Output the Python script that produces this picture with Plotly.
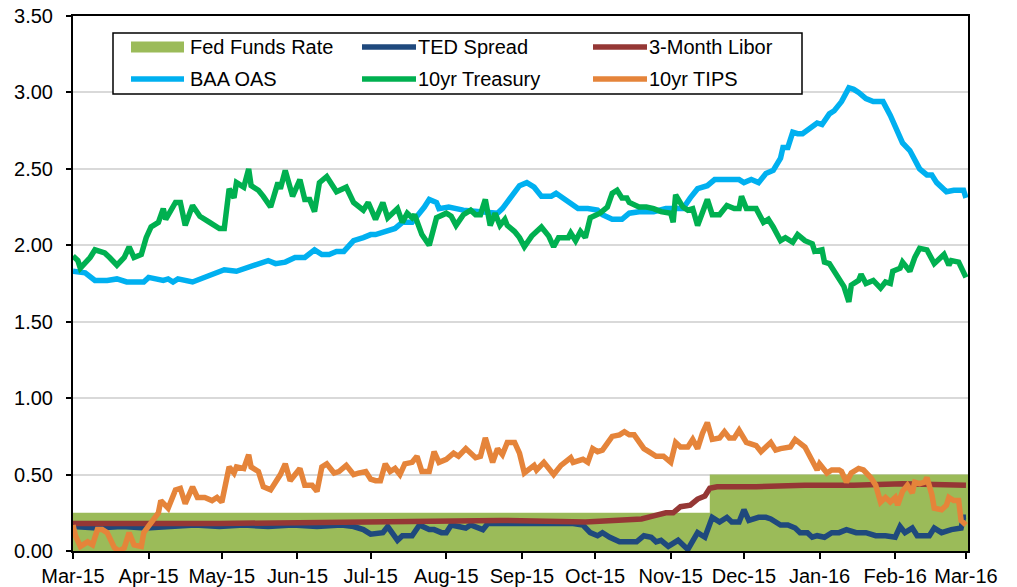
import plotly.graph_objects as go

# ---------------- data ----------------
fed_dates = ["2015-03-01", "2015-11-17", "2016-03-03"]
fed_vals = [0.25, 0.50, 0.50]

ted_dates = ["2015-03-01", "2015-03-11", "2015-03-21", "2015-03-31", "2015-04-10", "2015-04-20",
             "2015-04-30", "2015-05-10", "2015-05-20", "2015-05-30", "2015-06-09", "2015-06-19",
             "2015-06-24", "2015-06-28", "2015-07-01", "2015-07-06", "2015-07-08", "2015-07-12",
             "2015-07-14", "2015-07-18", "2015-07-21", "2015-07-25", "2015-07-27", "2015-07-30",
             "2015-08-01", "2015-08-03", "2015-08-06", "2015-08-09", "2015-08-11", "2015-08-14",
             "2015-08-16", "2015-08-18", "2015-08-23", "2015-09-02", "2015-09-12", "2015-09-22",
             "2015-09-26", "2015-09-29", "2015-10-02", "2015-10-04", "2015-10-07", "2015-10-11",
             "2015-10-15", "2015-10-18", "2015-10-21", "2015-10-24", "2015-10-26", "2015-10-28",
             "2015-10-31", "2015-11-04", "2015-11-08", "2015-11-12", "2015-11-15", "2015-11-18",
             "2015-11-21", "2015-11-24", "2015-11-26", "2015-11-29", "2015-12-01", "2015-12-03",
             "2015-12-07", "2015-12-10", "2015-12-12", "2015-12-16", "2015-12-19", "2015-12-22",
             "2015-12-24", "2015-12-27", "2015-12-29", "2015-12-31", "2016-01-03", "2016-01-06",
             "2016-01-09", "2016-01-12", "2016-01-16", "2016-01-20", "2016-01-24", "2016-01-28",
             "2016-02-01", "2016-02-03", "2016-02-05", "2016-02-08", "2016-02-10", "2016-02-15",
             "2016-02-17", "2016-02-20", "2016-02-24", "2016-02-28", "2016-02-29", "2016-03-01"]
ted_vals = [0.16, 0.15, 0.16, 0.15, 0.16, 0.17,
            0.16, 0.17, 0.16, 0.17, 0.16, 0.17,
            0.16, 0.14, 0.11, 0.12, 0.16, 0.07,
            0.10, 0.10, 0.17, 0.14, 0.14, 0.12,
            0.12, 0.17, 0.16, 0.15, 0.17, 0.15,
            0.14, 0.18, 0.18, 0.18, 0.18, 0.18,
            0.17, 0.12, 0.10, 0.12, 0.09, 0.06,
            0.06, 0.06, 0.10, 0.09, 0.06, 0.07,
            0.03, 0.07, 0.01, 0.12, 0.09, 0.22,
            0.19, 0.22, 0.19, 0.19, 0.27, 0.20,
            0.22, 0.22, 0.21, 0.17, 0.17, 0.15,
            0.12, 0.12, 0.09, 0.10, 0.09, 0.12,
            0.12, 0.14, 0.12, 0.12, 0.10, 0.10,
            0.09, 0.16, 0.12, 0.15, 0.10, 0.10,
            0.15, 0.12, 0.14, 0.15, 0.22, 0.22]

libor_dates = ["2015-03-01", "2015-04-30", "2015-06-29", "2015-08-23", "2015-09-27", "2015-10-12",
               "2015-10-20", "2015-10-25", "2015-10-30", "2015-11-02", "2015-11-05", "2015-11-09",
               "2015-11-12", "2015-11-15", "2015-11-17", "2015-11-20", "2015-12-06", "2015-12-26",
               "2016-01-15", "2016-02-04", "2016-03-01"]
libor_vals = [0.18, 0.18, 0.19, 0.20, 0.19, 0.20,
              0.21, 0.23, 0.25, 0.25, 0.29, 0.30,
              0.34, 0.36, 0.41, 0.42, 0.42, 0.43,
              0.43, 0.44, 0.43]

baa_dates = ["2015-03-01", "2015-03-06", "2015-03-10", "2015-03-15", "2015-03-19", "2015-03-23",
             "2015-03-30", "2015-04-01", "2015-04-07", "2015-04-09", "2015-04-11", "2015-04-13",
             "2015-04-19", "2015-04-22", "2015-04-27", "2015-05-02", "2015-05-07", "2015-05-12",
             "2015-05-16", "2015-05-20", "2015-05-23", "2015-05-27", "2015-05-31", "2015-06-04",
             "2015-06-08", "2015-06-11", "2015-06-14", "2015-06-17", "2015-06-20", "2015-06-24",
             "2015-06-28", "2015-07-01", "2015-07-03", "2015-07-07", "2015-07-11", "2015-07-14",
             "2015-07-18", "2015-07-23", "2015-07-25", "2015-07-28", "2015-07-29", "2015-08-02",
             "2015-08-08", "2015-08-15", "2015-08-22", "2015-08-24", "2015-08-26", "2015-08-29",
             "2015-08-31", "2015-09-03", "2015-09-06", "2015-09-09", "2015-09-13", "2015-09-15",
             "2015-09-18", "2015-09-21", "2015-09-24", "2015-09-28", "2015-10-02", "2015-10-04",
             "2015-10-08", "2015-10-12", "2015-10-15", "2015-10-19", "2015-10-25", "2015-10-30",
             "2015-11-06", "2015-11-09", "2015-11-12", "2015-11-16", "2015-11-19", "2015-11-24",
             "2015-11-29", "2015-12-01", "2015-12-04", "2015-12-07", "2015-12-10", "2015-12-13",
             "2015-12-16", "2015-12-17", "2015-12-19", "2015-12-21", "2015-12-23", "2015-12-25",
             "2015-12-29", "2015-12-31", "2016-01-02", "2016-01-05", "2016-01-07", "2016-01-10",
             "2016-01-13", "2016-01-15", "2016-01-17", "2016-01-20", "2016-01-23", "2016-01-27",
             "2016-01-30", "2016-02-02", "2016-02-04", "2016-02-07", "2016-02-09", "2016-02-11",
             "2016-02-14", "2016-02-16", "2016-02-18", "2016-02-22", "2016-02-25", "2016-02-28",
             "2016-02-29", "2016-03-01"]
baa_vals = [1.83, 1.82, 1.77, 1.77, 1.78, 1.76,
            1.76, 1.79, 1.77, 1.78, 1.76, 1.78,
            1.76, 1.78, 1.81, 1.84, 1.83, 1.86,
            1.88, 1.90, 1.88, 1.89, 1.92, 1.92,
            1.97, 1.94, 1.94, 1.96, 1.96, 2.03,
            2.05, 2.07, 2.07, 2.09, 2.11, 2.15,
            2.15, 2.25, 2.30, 2.28, 2.24, 2.25,
            2.23, 2.22, 2.21, 2.24, 2.28, 2.34,
            2.39, 2.41, 2.38, 2.32, 2.32, 2.34,
            2.31, 2.28, 2.24, 2.24, 2.23, 2.20,
            2.17, 2.17, 2.21, 2.22, 2.22, 2.24,
            2.24, 2.31, 2.37, 2.39, 2.43, 2.43,
            2.43, 2.41, 2.43, 2.41, 2.47, 2.49,
            2.57, 2.64, 2.64, 2.74, 2.73, 2.73,
            2.77, 2.80, 2.79, 2.86, 2.88, 2.94,
            3.03, 3.02, 3.00, 2.96, 2.94, 2.94,
            2.85, 2.73, 2.67, 2.62, 2.56, 2.50,
            2.46, 2.46, 2.41, 2.35, 2.36, 2.36,
            2.36, 2.31]

tsy_dates = ["2015-03-01", "2015-03-03", "2015-03-04", "2015-03-08", "2015-03-10", "2015-03-14",
             "2015-03-16", "2015-03-19", "2015-03-22", "2015-03-24", "2015-03-26", "2015-03-29",
             "2015-03-31", "2015-04-02", "2015-04-05", "2015-04-07", "2015-04-08", "2015-04-12",
             "2015-04-14", "2015-04-16", "2015-04-19", "2015-04-22", "2015-04-26", "2015-04-30",
             "2015-05-02", "2015-05-04", "2015-05-06", "2015-05-07", "2015-05-10", "2015-05-12",
             "2015-05-13", "2015-05-16", "2015-05-18", "2015-05-21", "2015-05-24", "2015-05-25",
             "2015-05-27", "2015-05-30", "2015-06-02", "2015-06-04", "2015-06-06", "2015-06-08",
             "2015-06-10", "2015-06-13", "2015-06-17", "2015-06-21", "2015-06-24", "2015-06-28",
             "2015-06-30", "2015-07-03", "2015-07-06", "2015-07-08", "2015-07-12", "2015-07-14",
             "2015-07-16", "2015-07-18", "2015-07-19", "2015-07-22", "2015-07-25", "2015-07-28",
             "2015-08-01", "2015-08-03", "2015-08-05", "2015-08-08", "2015-08-11", "2015-08-13",
             "2015-08-15", "2015-08-17", "2015-08-19", "2015-08-21", "2015-08-23", "2015-08-25",
             "2015-08-26", "2015-08-29", "2015-08-31", "2015-09-02", "2015-09-05", "2015-09-09",
             "2015-09-12", "2015-09-14", "2015-09-16", "2015-09-20", "2015-09-21", "2015-09-23",
             "2015-09-25", "2015-09-27", "2015-09-29", "2015-10-03", "2015-10-06", "2015-10-08",
             "2015-10-10", "2015-10-12", "2015-10-14", "2015-10-15", "2015-10-19", "2015-10-22",
             "2015-10-25", "2015-10-28", "2015-11-01", "2015-11-02", "2015-11-03", "2015-11-06",
             "2015-11-08", "2015-11-10", "2015-11-12", "2015-11-14", "2015-11-16", "2015-11-18",
             "2015-11-21", "2015-11-24", "2015-11-27", "2015-11-29", "2015-11-30", "2015-12-02",
             "2015-12-06", "2015-12-09", "2015-12-11", "2015-12-13", "2015-12-16", "2015-12-18",
             "2015-12-21", "2015-12-23", "2015-12-26", "2015-12-29", "2015-12-30", "2016-01-02",
             "2016-01-03", "2016-01-05", "2016-01-09", "2016-01-11", "2016-01-13", "2016-01-14",
             "2016-01-17", "2016-01-18", "2016-01-20", "2016-01-23", "2016-01-26", "2016-01-28",
             "2016-01-30", "2016-01-31", "2016-02-03", "2016-02-04", "2016-02-07", "2016-02-09",
             "2016-02-11", "2016-02-14", "2016-02-17", "2016-02-21", "2016-02-23", "2016-02-24",
             "2016-02-27", "2016-02-29", "2016-03-01"]
tsy_vals = [1.93, 1.90, 1.85, 1.92, 1.97, 1.95,
            1.92, 1.87, 1.92, 1.99, 1.92, 1.94,
            2.05, 2.12, 2.15, 2.24, 2.17, 2.28,
            2.28, 2.13, 2.26, 2.19, 2.15, 2.11,
            2.11, 2.37, 2.31, 2.41, 2.38, 2.50,
            2.39, 2.36, 2.32, 2.25, 2.41, 2.37,
            2.49, 2.32, 2.43, 2.30, 2.30, 2.22,
            2.41, 2.45, 2.35, 2.38, 2.28, 2.23,
            2.28, 2.17, 2.28, 2.18, 2.24, 2.15,
            2.21, 2.18, 2.20, 2.07, 2.00, 2.18,
            2.21, 2.19, 2.13, 2.20, 2.23, 2.20,
            2.20, 2.30, 2.13, 2.21, 2.13, 2.17,
            2.13, 2.09, 2.05, 1.99, 2.06, 2.12,
            2.06, 1.99, 2.05, 2.05, 2.08, 2.03,
            2.09, 2.05, 2.18, 2.21, 2.25, 2.34,
            2.36, 2.31, 2.31, 2.28, 2.25, 2.25,
            2.24, 2.22, 2.21, 2.15, 2.33, 2.25,
            2.23, 2.24, 2.13, 2.21, 2.30, 2.20,
            2.20, 2.26, 2.24, 2.24, 2.32, 2.24,
            2.24, 2.15, 2.17, 2.12, 2.03, 2.05,
            2.02, 2.07, 2.03, 2.01, 1.96, 1.97,
            1.89, 1.88, 1.79, 1.73, 1.63, 1.74,
            1.77, 1.81, 1.75, 1.77, 1.72, 1.76,
            1.75, 1.83, 1.85, 1.89, 1.83, 1.92,
            1.98, 1.97, 1.88, 1.94, 1.87, 1.90,
            1.89, 1.81, 1.79]

tips_dates = ["2015-03-01", "2015-03-02", "2015-03-04", "2015-03-07", "2015-03-09", "2015-03-11",
              "2015-03-13", "2015-03-15", "2015-03-18", "2015-03-20", "2015-03-22", "2015-03-24",
              "2015-03-26", "2015-03-29", "2015-03-30", "2015-04-01", "2015-04-05", "2015-04-06",
              "2015-04-09", "2015-04-12", "2015-04-14", "2015-04-16", "2015-04-19", "2015-04-21",
              "2015-04-24", "2015-04-27", "2015-04-29", "2015-05-01", "2015-05-03", "2015-05-04",
              "2015-05-06", "2015-05-07", "2015-05-10", "2015-05-12", "2015-05-13", "2015-05-16",
              "2015-05-18", "2015-05-21", "2015-05-23", "2015-05-25", "2015-05-27", "2015-05-29",
              "2015-06-02", "2015-06-04", "2015-06-07", "2015-06-09", "2015-06-11", "2015-06-13",
              "2015-06-16", "2015-06-18", "2015-06-21", "2015-06-24", "2015-06-26", "2015-06-29",
              "2015-07-01", "2015-07-03", "2015-07-05", "2015-07-07", "2015-07-09", "2015-07-11",
              "2015-07-13", "2015-07-15", "2015-07-18", "2015-07-20", "2015-07-22", "2015-07-25",
              "2015-07-27", "2015-07-29", "2015-08-01", "2015-08-04", "2015-08-06", "2015-08-09",
              "2015-08-13", "2015-08-15", "2015-08-17", "2015-08-20", "2015-08-22", "2015-08-24",
              "2015-08-26", "2015-08-29", "2015-08-31", "2015-09-02", "2015-09-06", "2015-09-07",
              "2015-09-10", "2015-09-12", "2015-09-14", "2015-09-17", "2015-09-21", "2015-09-22",
              "2015-09-26", "2015-09-28", "2015-09-30", "2015-10-02", "2015-10-04", "2015-10-08",
              "2015-10-11", "2015-10-13", "2015-10-15", "2015-10-17", "2015-10-21", "2015-10-23",
              "2015-10-26", "2015-10-29", "2015-11-01", "2015-11-03", "2015-11-05", "2015-11-08",
              "2015-11-10", "2015-11-12", "2015-11-14", "2015-11-16", "2015-11-18", "2015-11-21",
              "2015-11-23", "2015-11-25", "2015-11-27", "2015-11-29", "2015-12-02", "2015-12-06",
              "2015-12-08", "2015-12-10", "2015-12-12", "2015-12-14", "2015-12-16", "2015-12-20",
              "2015-12-22", "2015-12-26", "2015-12-29", "2015-12-31", "2016-01-01", "2016-01-04",
              "2016-01-06", "2016-01-09", "2016-01-10", "2016-01-12", "2016-01-14", "2016-01-17",
              "2016-01-19", "2016-01-22", "2016-01-24", "2016-01-26", "2016-01-28", "2016-01-30",
              "2016-02-01", "2016-02-02", "2016-02-04", "2016-02-06", "2016-02-08", "2016-02-09",
              "2016-02-11", "2016-02-13", "2016-02-14", "2016-02-16", "2016-02-17", "2016-02-20",
              "2016-02-22", "2016-02-23", "2016-02-25", "2016-02-27", "2016-02-28", "2016-03-01"]
tips_vals = [0.17, 0.10, 0.03, 0.06, 0.04, 0.14,
             0.14, 0.12, 0.02, 0.00, 0.02, 0.12,
             0.04, 0.03, 0.12, 0.16, 0.25, 0.33,
             0.28, 0.40, 0.41, 0.31, 0.42, 0.35,
             0.35, 0.33, 0.35, 0.32, 0.45, 0.55,
             0.51, 0.55, 0.54, 0.63, 0.55, 0.52,
             0.42, 0.40, 0.45, 0.50, 0.57, 0.46,
             0.54, 0.43, 0.43, 0.39, 0.55, 0.57,
             0.51, 0.52, 0.56, 0.50, 0.51, 0.52,
             0.47, 0.46, 0.46, 0.57, 0.52, 0.54,
             0.50, 0.57, 0.58, 0.62, 0.52, 0.52,
             0.65, 0.58, 0.60, 0.64, 0.62, 0.67,
             0.61, 0.62, 0.74, 0.58, 0.67, 0.63,
             0.71, 0.71, 0.64, 0.51, 0.56, 0.53,
             0.58, 0.54, 0.50, 0.56, 0.61, 0.58,
             0.60, 0.58, 0.67, 0.65, 0.66, 0.75,
             0.76, 0.78, 0.76, 0.76, 0.67, 0.65,
             0.62, 0.62, 0.58, 0.71, 0.68, 0.68,
             0.73, 0.67, 0.77, 0.84, 0.73, 0.74,
             0.78, 0.74, 0.74, 0.79, 0.71, 0.69,
             0.65, 0.68, 0.71, 0.66, 0.67, 0.68,
             0.73, 0.68, 0.60, 0.53, 0.57, 0.51,
             0.53, 0.53, 0.52, 0.45, 0.51, 0.54,
             0.53, 0.48, 0.43, 0.32, 0.35, 0.32,
             0.35, 0.30, 0.39, 0.43, 0.38, 0.45,
             0.44, 0.45, 0.48, 0.37, 0.28, 0.27,
             0.30, 0.35, 0.33, 0.33, 0.20, 0.17]

y_ticks = [0.0, 0.5, 1.0, 1.5, 2.0, 2.5, 3.0, 3.5]

names = ["Fed Funds Rate", "TED Spread", "3-Month Libor", "BAA OAS", "10yr Treasury", "10yr TIPS"]
colors = ["#9BBB59", "#1F497D", "#953735", "#00B0F0", "#00B050", "#E5843A"]

# ---------------- figure ----------------
FONT = "Liberation Sans, Arial, sans-serif"
FS = 20
W, H = 1017, 587
L, R, T, B = 73, 49, 16, 36
PW, PH = W - L - R, H - T - B


def px(x):
    # window pixel -> paper fraction
    return (x - L) / PW


def py(y):
    return (H - B - y) / PH


fig = go.Figure()
fig.add_trace(go.Scatter(x=fed_dates, y=fed_vals, name=names[0], mode="lines",
                         line=dict(width=0, shape="hv", color=colors[0]),
                         fill="tozeroy", fillcolor=colors[0]))
series = [(ted_dates, ted_vals), (libor_dates, libor_vals), (baa_dates, baa_vals),
          (tsy_dates, tsy_vals), (tips_dates, tips_vals)]
for i, (d, v) in enumerate(series, start=1):
    fig.add_trace(go.Scatter(x=d, y=v, name=names[i], mode="lines",
                             line=dict(width=5.5, color=colors[i])))

# legend drawn as a boxed key (3 columns x 2 rows)
shapes = [dict(type="rect", xref="paper", yref="paper",
               x0=px(113), x1=px(802), y0=py(94), y1=py(33),
               line=dict(color="black", width=1.5), fillcolor="white", layer="above")]
annotations = []
col_sw = [(131, 184), (362, 416), (593, 647)]
col_tx = [188, 416, 647]
row_y = [47, 79]
for k, name in enumerate(names):
    r, c = divmod(k, 3)
    yc = row_y[r]
    x0, x1 = col_sw[c]
    if k == 0:
        shapes.append(dict(type="rect", xref="paper", yref="paper",
                           x0=px(x0), x1=px(x1), y0=py(yc + 5.5), y1=py(yc - 5.5),
                           line=dict(width=0), fillcolor=colors[k], layer="above"))
    else:
        shapes.append(dict(type="line", xref="paper", yref="paper",
                           x0=px(x0), x1=px(x1), y0=py(yc), y1=py(yc),
                           line=dict(color=colors[k], width=5.5), layer="above"))
    annotations.append(dict(xref="paper", yref="paper", x=px(col_tx[c]), y=py(yc),
                            xanchor="left", yanchor="middle", showarrow=False,
                            text=name, font=dict(family=FONT, size=FS, color="black")))

fig.update_layout(
    width=W, height=H,
    margin=dict(l=L, r=R, t=T, b=B, pad=0),
    paper_bgcolor="white", plot_bgcolor="white",
    showlegend=False,
    font=dict(family=FONT, size=FS, color="black"),
    shapes=shapes, annotations=annotations,
)
fig.update_xaxes(type="date", range=["2015-03-01", "2016-03-01 20:00"],
                 tick0="2015-03-01", dtick="M1", tickformat="%b-%y",
                 ticks="outside", ticklen=6, tickwidth=1.5, tickcolor="black",
                 showline=True, linecolor="black", linewidth=2, mirror=True,
                 showgrid=False, zeroline=False, ticklabelstandoff=0, automargin=False,
                 ticklabeloverflow="allow",
                 tickfont=dict(family=FONT, size=FS, color="black"))
fig.update_yaxes(range=[0, 3.5], tickvals=y_ticks, tickformat=".2f",
                 ticks="outside", ticklen=5, tickwidth=1.5, tickcolor="black",
                 showline=True, linecolor="black", linewidth=2, mirror=True,
                 showgrid=True, gridcolor="#D9D9D9", gridwidth=1.5, zeroline=False,
                 ticklabelstandoff=9, automargin=False, ticklabeloverflow="allow",
                 tickfont=dict(family=FONT, size=FS, color="black"))

# remove the page's default body margin so the figure sits at the window's origin
fig.write_html("out.html", config={"displayModeBar": False},
               post_script="document.body.style.margin='0';document.body.style.overflow='hidden';")
